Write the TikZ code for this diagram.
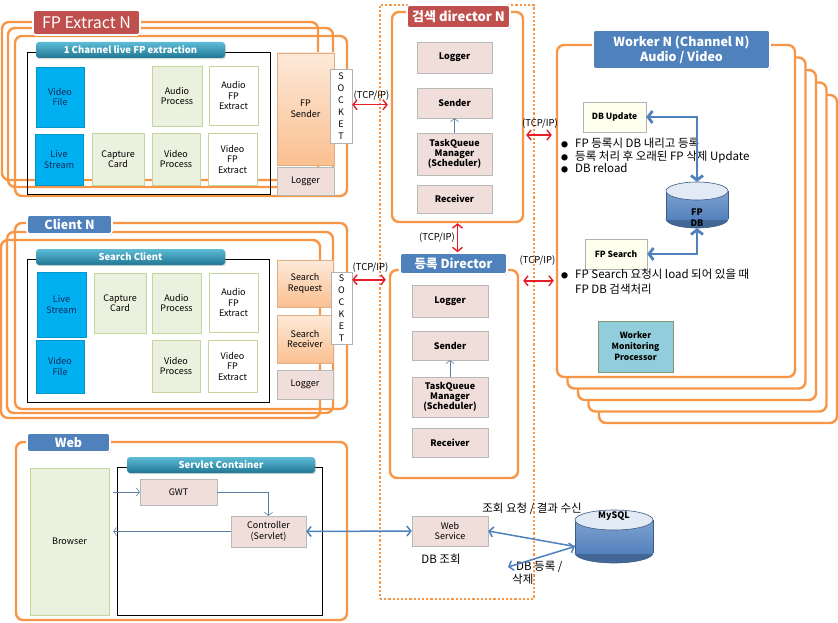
\documentclass[tikz,border=0pt]{standalone}
\usepackage{fontspec}
\setmainfont{Noto Sans CJK KR}
\usetikzlibrary{positioning,arrows.meta,shadows}

\definecolor{frameOrange}{RGB}{247,150,70}
\definecolor{titleRed}{RGB}{192,80,77}
\definecolor{titleBlue}{RGB}{79,129,189}
\definecolor{bannerLight}{RGB}{92,188,214}
\definecolor{bannerDark}{RGB}{33,118,146}
\definecolor{streamBlue}{RGB}{0,176,240}
\definecolor{navyText}{RGB}{20,40,90}
\definecolor{procGreen}{RGB}{235,241,222}
\definecolor{procBorder}{RGB}{195,214,155}
\definecolor{roseFill}{RGB}{240,222,218}
\definecolor{senderLight}{RGB}{253,233,217}
\definecolor{senderOrange}{RGB}{250,192,144}
\definecolor{creamFill}{RGB}{255,255,240}
\definecolor{monitorBlue}{RGB}{146,205,220}
\definecolor{tcpRed}{RGB}{230,30,40}
\definecolor{linkBlue}{RGB}{79,129,189}
\definecolor{thinBlue}{RGB}{90,125,165}
\definecolor{cylBody}{RGB}{84,130,190}
\definecolor{cylTop}{RGB}{225,234,245}

\tikzstyle{canvas} = [x=1pt, y=-1pt, every node/.style={inner sep=1pt}]
\tikzstyle{softShadow} = [drop shadow={shadow xshift=1pt, shadow yshift=-1.2pt, opacity=0.3}]
\tikzstyle{groupFrame} = [draw=frameOrange, line width=2.4pt, rounded corners=7pt]
\tikzstyle{workerFrame} = [groupFrame, fill=white]
\tikzstyle{dirZone} = [draw=frameOrange, line width=2.2pt, dotted]
\tikzstyle{workArea} = [draw=black, line width=0.8pt]
\tikzstyle{titleBox} = [draw=white, line width=1.6pt, rounded corners=3pt, text=white, align=center, softShadow, font=\bfseries\fontsize{12.5}{14}\selectfont]
\tikzstyle{redTitle} = [titleBox, fill=titleRed]
\tikzstyle{blueTitle} = [titleBox, fill=titleBlue]
\tikzstyle{banner} = [rounded corners=3pt, top color=bannerLight, bottom color=bannerDark, text=white, softShadow, font=\bfseries\fontsize{9.5}{10}\selectfont]
\tikzstyle{procBox} = [align=center, softShadow, font=\fontsize{9}{10.5}\selectfont]
\tikzstyle{sourceBox} = [procBox, fill=streamBlue, draw=streamBlue!85!black, text=navyText]
\tikzstyle{stageBox} = [procBox, fill=procGreen, draw=procBorder]
\tikzstyle{extractBox} = [procBox, fill=white, draw=procBorder]
\tikzstyle{senderBox} = [procBox, top color=senderLight, bottom color=senderOrange, draw=senderOrange!90!black]
\tikzstyle{roseBox} = [procBox, fill=roseFill, draw=gray!55]
\tikzstyle{dirBox} = [roseBox, font=\bfseries\fontsize{9}{10}\selectfont]
\tikzstyle{socketBox} = [procBox, fill=white, draw=gray!60, font=\fontsize{9}{12}\selectfont]
\tikzstyle{workerBox} = [procBox, fill=creamFill, draw=gray!60, font=\bfseries\fontsize{8.5}{10}\selectfont]
\tikzstyle{monitorBox} = [procBox, fill=monitorBlue, draw=procBorder!70!black, font=\bfseries\fontsize{8.5}{11}\selectfont]
\tikzstyle{webBox} = [procBox, fill=roseFill, draw=gray!55]
\tikzstyle{browserBox} = [procBox, fill=procGreen, draw=procBorder]
\tikzstyle{drumNode} = [draw=none]
\tikzstyle{drumEdge} = [draw=cylBody!70!black, line width=0.6pt]
\tikzstyle{dbLabel} = [font=\bfseries\fontsize{9}{11}\selectfont, align=center, text=black]
\tikzstyle{tcpArrow} = [draw=tcpRed, line width=1.4pt, >={Straight Barb[length=4pt,width=10pt]}, <->]
\tikzstyle{tcpLabel} = [font=\fontsize{9.5}{11}\selectfont, text=black]
\tikzstyle{dbLink} = [draw=linkBlue, line width=2.8pt, >={Straight Barb[length=4.5pt,width=12pt]}, <->]
\tikzstyle{flowArrow} = [draw=thinBlue, line width=0.6pt, >={Straight Barb[length=3pt,width=8pt]}, ->]
\tikzstyle{webLink} = [draw=linkBlue, line width=1.5pt, >={Straight Barb[length=4pt,width=10pt]}]
\tikzstyle{noteText} = [font=\fontsize{11.5}{12.5}\selectfont, align=left, text=black]

\newcommand{\noteDot}{\makebox[14pt][l]{\fontsize{7}{7}\selectfont ●}}
\newcommand{\boxAt}[7]{
  \pgfmathsetmacro{\boxW}{(#5)-(#3)}
  \pgfmathsetmacro{\boxH}{(#6)-(#4)}
  \node [#1, minimum width=\boxW pt, minimum height=\boxH pt] (#2) at ({((#3)+(#5))/2},{((#4)+(#6))/2}) {#7};
}
\newcommand{\dbDrum}[5]{
  \pgfmathsetmacro{\drumCx}{((#1)+(#3))/2}
  \pgfmathsetmacro{\drumRx}{((#3)-(#1))/2}
  \filldraw[drumEdge, fill=cylBody!80!black] (\drumCx,#4-#5) ellipse [x radius=\drumRx pt, y radius=#5 pt];
  \shade[top color=cylBody!75!white, bottom color=cylBody] (#1,#2+#5) rectangle (#3,#4-#5);
  \draw[drumEdge] (#1,#2+#5) -- (#1,#4-#5) (#3,#2+#5) -- (#3,#4-#5);
  \filldraw[drumEdge, fill=cylTop] (\drumCx,#2+#5) ellipse [x radius=\drumRx pt, y radius=#5 pt];
}

\begin{document}
\begin{tikzpicture}[canvas]
    \useasboundingbox (0,0) rectangle (838,623);
    \boxAt{dirZone}{dirZone}{380}{5}{534}{599}{}
    % FP Extract N
    \foreach \fx/\fy/\fr/\fb [count=\k] in {2/22/318/180, 8/28/333/187, 15/36/347/196} {
      \boxAt{groupFrame}{extFrame\k}{\fx}{\fy}{\fr}{\fb}{}
    }
    \boxAt{workArea}{extArea}{27}{52}{270}{194}{}
    \boxAt{banner}{extBanner}{36}{42}{225}{58}{1 Channel live FP extraction}
    \boxAt{redTitle, font=\fontsize{16}{18}\selectfont}{extTitle}{33}{10}{140}{35}{FP Extract N}
    \boxAt{sourceBox}{extFile}{36}{67}{84}{127}{Video\\File}
    \boxAt{sourceBox}{extLive}{35}{134}{83}{185}{Live\\Stream}
    \boxAt{stageBox}{extCapture}{92}{133}{144}{185}{Capture\\Card}
    \boxAt{stageBox}{extAudioProc}{152}{66}{202}{126}{Audio\\Process}
    \boxAt{stageBox}{extVideoProc}{152}{133}{200}{185}{Video\\Process}
    \boxAt{extractBox}{extAudioFP}{209}{66}{258}{125}{Audio\\FP\\Extract}
    \boxAt{extractBox}{extVideoFP}{208}{133}{257}{185}{Video\\FP\\Extract}
    \boxAt{senderBox}{extSender}{277}{53}{334}{165}{FP\\Sender}
    \boxAt{roseBox}{extLogger}{277}{167}{334}{195}{Logger}
    \boxAt{socketBox}{extSocket}{330}{69}{352}{143}{S\\O\\C\\K\\E\\T}
    % Client N
    \foreach \fx/\fy/\fr/\fb [count=\k] in {15/223/347/409, 7/232/333/413, 1/240/320/418} {
      \boxAt{groupFrame}{cliFrame\k}{\fx}{\fy}{\fr}{\fb}{}
    }
    \boxAt{workArea}{cliArea}{27}{259}{269}{402}{}
    \boxAt{banner}{cliBanner}{36}{249}{225}{265}{Search Client}
    \boxAt{blueTitle}{cliTitle}{27}{215}{112}{234}{Client N}
    \boxAt{sourceBox}{cliLive}{37}{272}{86}{337}{Live\\Stream}
    \boxAt{sourceBox}{cliFile}{36}{340}{84}{393}{Video\\File}
    \boxAt{stageBox}{cliCapture}{94}{273}{146}{333}{Capture\\Card}
    \boxAt{stageBox}{cliAudioProc}{152}{273}{201}{333}{Audio\\Process}
    \boxAt{stageBox}{cliVideoProc}{152}{340}{200}{392}{Video\\Process}
    \boxAt{extractBox}{cliAudioFP}{209}{273}{258}{332}{Audio\\FP\\Extract}
    \boxAt{extractBox}{cliVideoFP}{208}{340}{257}{392}{Video\\FP\\Extract}
    \boxAt{senderBox}{cliRequest}{277}{260}{333}{307}{Search\\Request}
    \boxAt{senderBox}{cliReceiver}{277}{315}{333}{363}{Search\\Receiver}
    \boxAt{roseBox}{cliLogger}{277}{370}{333}{399}{Logger}
    \boxAt{socketBox}{cliSocket}{331}{272}{352}{344}{S\\O\\C\\K\\E\\T}
    % Web
    \boxAt{groupFrame}{webFrame}{16}{442}{347}{620}{}
    \boxAt{blueTitle}{webTitle}{27}{433}{110}{452}{Web}
    \boxAt{browserBox}{webBrowser}{30}{468}{109}{615}{Browser}
    \boxAt{workArea}{webArea}{117}{467}{322}{615}{}
    \boxAt{banner}{webBanner}{127}{457}{315}{473}{Servlet Container}
    \boxAt{webBox}{webGwt}{140}{479}{217}{505}{GWT}
    \boxAt{webBox}{webCtrl}{231}{516}{306}{547}{Controller\\(Servlet)}
    \boxAt{webBox}{webSvc}{412}{516}{488}{546}{Web\\Service}
    % directors
    \boxAt{groupFrame}{srchFrame}{392}{12}{523}{222}{}
    \boxAt{redTitle, font=\bfseries\fontsize{13}{15}\selectfont}{srchTitle}{407}{5}{510}{28}{검색 director N}
    \boxAt{dirBox}{srchLogger}{417}{42}{492}{73}{Logger}
    \boxAt{dirBox}{srchSender}{417}{88}{492}{118}{Sender}
    \boxAt{dirBox}{srchQueue}{417}{133}{492}{175}{TaskQueue\\Manager\\(Scheduler)}
    \boxAt{dirBox}{srchReceiver}{417}{185}{492}{213}{Receiver}
    \boxAt{groupFrame}{regFrame}{390}{270}{518}{478}{}
    \boxAt{blueTitle, font=\bfseries\fontsize{12.5}{14}\selectfont}{regTitle}{400}{253}{507}{274}{등록 Director}
    \boxAt{dirBox}{regLogger}{412}{285}{488}{317}{Logger}
    \boxAt{dirBox}{regSender}{412}{331}{488}{360}{Sender}
    \boxAt{dirBox}{regQueue}{412}{377}{488}{417}{TaskQueue\\Manager\\(Scheduler)}
    \boxAt{dirBox}{regReceiver}{412}{428}{488}{457}{Receiver}
    \draw[flowArrow] (srchQueue.north) -- (srchSender.south);
    \draw[flowArrow] (regQueue.north) -- (regSender.south);
    % Worker N
    \foreach \k in {4,3,2,1} {
      \boxAt{workerFrame}{workerBack\k}{557+10.5*\k}{45+12.5*\k}{795+10.5*\k}{377+11.5*\k}{}
    }
    \boxAt{workerFrame}{worker}{557}{45}{795}{377}{}
    \boxAt{blueTitle, font=\bfseries\fontsize{12.5}{15}\selectfont}{wkTitle}{593}{30}{770}{69}{Worker N (Channel N)\\Audio / Video}
    \boxAt{workerBox}{wkUpdate}{583}{102}{646}{132}{DB Update}
    \boxAt{workerBox}{wkSearch}{585}{239}{647}{269}{FP Search}
    \boxAt{monitorBox}{wkMonitor}{598}{321}{673}{372}{Worker\\Monitoring\\Processor}
    \dbDrum{666}{182}{728}{228}{9}
    \boxAt{drumNode}{fpdb}{666}{182}{728}{228}{}
    \node[dbLabel] (fpdbText) at ([yshift=-13pt]fpdb.center) {FP\\DB};
    \node[noteText, anchor=north west] (updNotes) at (560,137) {\noteDot FP 등록시 DB 내리고 등록\\\noteDot 등록 처리 후 오래된 FP 삭제 Update\\\noteDot DB reload};
    \node[noteText, anchor=north west, font=\fontsize{11.5}{14.5}\selectfont] (searchNotes) at (560,268) {\noteDot FP Search 요청시 load 되어 있을 때\\\hspace*{14pt}FP DB 검색처리};
    \draw[dbLink] (wkUpdate.east) -| (fpdb.north);
    \draw[dbLink] (wkSearch.east) -| (fpdb.south);
    % MySQL
    \dbDrum{575}{510}{653}{563}{10}
    \boxAt{drumNode}{mysql}{575}{510}{653}{563}{}
    \node[dbLabel, below=1pt] (mysqlText) at (mysql.north) {MySQL};
    \node[noteText] (queryNote) at (532,509) {조회 요청 / 결과 수신};
    \node[noteText] (lookupNote) at (441,559) {DB 조회};
    \node[noteText, anchor=west] (regNote) at (511,573) {\hspace*{4pt}DB 등록 /\\삭제};
    % connectors
    \coordinate (extPort) at ([yshift=-36pt]extSocket.north east);
    \draw[tcpArrow, shorten >=3pt] (extPort) -- (extPort -| srchFrame.west) node[tcpLabel, midway, above=3pt] {(TCP/IP)};
    \coordinate (cliPort) at ([yshift=-8pt]cliSocket.north east);
    \draw[tcpArrow, shorten >=3pt] (cliPort) -- (cliPort -| regFrame.west) node[tcpLabel, midway, above=6pt] {(TCP/IP)};
    \coordinate (srchPort) at ([yshift=-18pt]srchFrame.east);
    \draw[tcpArrow, shorten <=2pt, shorten >=4pt] (srchPort) -- (srchPort -| worker.west) node[tcpLabel, midway, above=5pt] {(TCP/IP)};
    \coordinate (regPort) at ([yshift=-12pt]regFrame.north east);
    \draw[tcpArrow, shorten <=4pt, shorten >=2pt] (regPort) -- (regPort -| worker.west) node[tcpLabel, midway, above=14pt] {(TCP/IP)};
    \draw[tcpArrow] (srchFrame.south) -- (srchFrame.south |- regTitle.north) node[tcpLabel, midway, left=1pt] {(TCP/IP)};
    \draw[flowArrow, shorten <=4pt] (webGwt.west -| webBrowser.east) -- (webGwt.west);
    \draw[flowArrow] (webGwt.east) -| (webCtrl.north);
    \draw[flowArrow, shorten >=4pt] (webCtrl.west) -- (webCtrl.west -| webBrowser.east);
    \draw[webLink, <->] (webCtrl.east) -- (webSvc.west);
    \coordinate (mysqlPort) at ([yshift=-10pt]mysql.west);
    \coordinate (dbRegEnd) at (508,567);
    \draw[webLink, ->] (mysqlPort) -- (webSvc.east);
    \draw[webLink, <->] (dbRegEnd) -- (mysqlPort);
\end{tikzpicture}
\end{document}
